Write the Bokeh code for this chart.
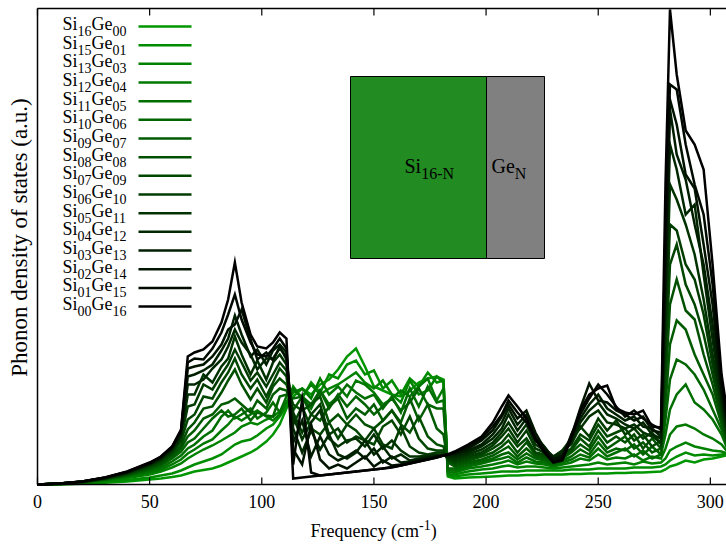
import math
from bokeh.plotting import figure
from bokeh.models import Range1d, Label
from bokeh.embed import file_html
from bokeh.resources import INLINE

# ---------------- data ----------------
FREQ = [0, 10, 20, 30, 40, 50, 55, 60, 64, 67,
        70, 74, 78, 82, 85, 88, 91, 95, 98, 102,
        105, 108, 111, 114, 118, 122, 126, 130, 134, 138,
        142, 146, 150, 154, 158, 162, 166, 170, 174, 178,
        181, 183, 186, 192, 198, 203, 207, 210, 214, 218,
        222, 226, 230, 234, 238, 242, 246, 250, 254, 258,
        262, 266, 270, 274, 278, 280, 282, 285, 289, 293,
        297, 301, 305, 309]

SI_COUNT = ["16", "15", "13", "12", "11", "10", "09", "08",
            "07", "06", "05", "04", "03", "02", "01", "00"]
GE_COUNT = ["00", "01", "03", "04", "05", "06", "07", "08",
            "09", "10", "11", "12", "13", "14", "15", "16"]

XTICKS = [0, 50, 100, 150, 200, 250, 300]

si16ge00 = [0, 0.02, 0.08, 0.18, 0.3, 0.5, 0.6, 0.75, 0.9, 1.1,
            1.3, 1.45, 1.6, 1.9, 2.2, 2.5, 2.8, 3.2, 3.6, 4.3,
            5.0, 6.0, 7.6, 8.8, 9.6, 9.0, 10.0, 10.5, 11.5, 12.8,
            13.6, 11.8, 9.8, 9.4, 9.0, 8.8, 9.4, 10.2, 10.6, 10.8,
            10.5, 0.8, 0.6, 0.7, 0.75, 0.8, 0.85, 0.9, 0.9, 0.95,
            0.95, 1.0, 1.0, 1.0, 1.05, 1.05, 1.1, 1.1, 1.1, 1.15,
            1.15, 1.2, 1.2, 1.25, 1.3, 1.5, 1.8, 2.0, 2.4, 2.2,
            2.5, 2.6, 2.8, 3.0]
si15ge01 = [0, 0.03, 0.1, 0.25, 0.45, 0.7, 0.9, 1.1, 1.4, 1.7,
            2.0, 2.3, 2.6, 3.0, 3.5, 4.0, 4.3, 4.5, 4.9, 5.6,
            6.0, 6.8, 7.8, 9.8, 8.6, 10.2, 9.2, 11.0, 10.6, 12.0,
            12.4, 11.0, 11.4, 9.6, 10.4, 9.0, 10.6, 9.8, 11.2, 10.2,
            10.4, 0.9, 0.8, 1.0, 1.1, 1.2, 1.3, 1.3, 1.3, 1.4,
            1.4, 1.4, 1.4, 1.4, 1.5, 1.5, 1.5, 1.6, 1.6, 1.6,
            1.6, 1.7, 1.7, 1.7, 1.8, 2.0, 2.4, 2.8, 3.2, 2.9,
            3.0, 2.9, 3.0, 3.1]
si13ge03 = [0, 0.05, 0.15, 0.35, 0.65, 1.0, 1.3, 1.7, 2.1, 2.6,
            3.0, 3.5, 3.9, 4.4, 4.8, 5.2, 5.8, 6.2, 6.0, 6.5,
            6.8, 7.3, 8.2, 9.4, 8.8, 10.0, 9.0, 9.6, 10.0, 10.6,
            11.2, 10.2, 9.6, 10.4, 9.0, 8.2, 10.4, 9.0, 9.4, 10.8,
            10.2, 1.0, 1.0, 1.3, 1.5, 1.6, 1.8, 1.9, 1.7, 1.8,
            1.8, 1.7, 1.6, 1.7, 1.8, 1.9, 2.0, 2.2, 2.0, 2.1,
            2.2, 2.0, 2.3, 2.1, 2.2, 2.6, 3.4, 3.8, 4.2, 3.8,
            3.6, 3.4, 3.3, 3.0]
si12ge04 = [0, 0.05, 0.18, 0.4, 0.75, 1.2, 1.5, 2.0, 2.5, 3.1,
            3.5, 4.1, 4.5, 5.4, 6.0, 6.8, 6.4, 7.0, 7.4, 6.8,
            6.4, 7.0, 8.2, 9.2, 9.6, 8.6, 10.6, 9.0, 9.8, 8.8,
            10.4, 10.0, 9.2, 8.0, 8.6, 9.4, 8.8, 9.8, 10.6, 8.4,
            9.6, 1.2, 1.2, 1.6, 1.8, 2.0, 2.2, 2.4, 2.0, 2.3,
            2.1, 2.0, 1.8, 2.0, 2.2, 2.6, 2.4, 3.0, 2.5, 2.7,
            2.6, 3.0, 2.4, 2.8, 2.6, 3.6, 5.0, 5.8, 6.0, 5.6,
            5.0, 4.6, 4.0, 2.9]
si11ge05 = [0, 0.06, 0.2, 0.45, 0.85, 1.35, 1.7, 2.3, 2.9, 3.6,
            4.0, 4.8, 5.4, 6.8, 7.4, 6.6, 7.0, 7.6, 6.6, 7.2,
            8.2, 7.2, 8.8, 9.6, 8.6, 7.6, 9.4, 8.0, 8.8, 10.0,
            9.2, 8.6, 9.0, 7.6, 8.8, 7.2, 9.6, 7.8, 9.8, 8.2,
            8.4, 1.4, 1.4, 1.8, 2.1, 2.4, 2.6, 2.8, 2.2, 2.7,
            2.3, 2.2, 1.9, 2.2, 2.5, 3.0, 2.7, 3.6, 2.8, 3.2,
            3.6, 2.8, 3.4, 2.6, 3.0, 5.0, 7.5, 9.0, 10.0, 8.2,
            7.5, 6.5, 5.0, 2.8]
si10ge06 = [0, 0.07, 0.22, 0.5, 0.9, 1.5, 1.9, 2.6, 3.3, 4.2,
            4.6, 5.6, 6.6, 7.4, 6.8, 7.0, 7.6, 6.4, 7.2, 6.9,
            6.8, 8.8, 9.0, 8.6, 8.8, 8.0, 9.4, 7.6, 9.0, 7.8,
            8.8, 8.0, 7.0, 7.8, 8.6, 7.4, 8.2, 9.6, 8.0, 7.6,
            7.6, 1.6, 1.6, 2.0, 2.3, 2.6, 3.0, 3.2, 2.5, 3.1,
            2.6, 2.4, 2.0, 2.4, 2.8, 3.5, 3.0, 4.2, 3.2, 3.6,
            3.4, 4.0, 3.0, 3.8, 3.0, 6.5, 10.5, 12.5, 12.0, 11.0,
            9.5, 7.5, 5.5, 2.8]
si09ge07 = [0, 0.07, 0.24, 0.52, 0.95, 1.6, 2.0, 2.8, 3.6, 4.8,
            5.4, 6.6, 7.0, 8.0, 8.2, 8.6, 8.0, 7.2, 8.4, 7.6,
            9.0, 9.6, 9.4, 7.4, 8.8, 7.0, 6.4, 7.8, 8.6, 6.6,
            7.6, 7.0, 8.0, 6.4, 7.4, 6.2, 8.6, 6.4, 8.0, 5.6,
            5.0, 2.2, 1.8, 2.2, 2.5, 2.9, 3.4, 3.8, 2.8, 3.6,
            2.8, 2.6, 2.2, 2.6, 3.2, 4.0, 3.4, 4.8, 3.6, 4.2,
            4.8, 3.6, 4.2, 3.2, 3.6, 8.0, 14.0, 16.4, 15.5, 13.0,
            11.0, 9.0, 6.0, 2.8]
si08ge08 = [0, 0.08, 0.25, 0.55, 1.0, 1.7, 2.1, 3.0, 3.9, 5.5,
            6.2, 7.6, 7.8, 9.2, 10.4, 11.5, 10.0, 8.5, 9.6, 8.2,
            9.8, 10.6, 10.0, 8.0, 7.4, 8.0, 8.8, 6.2, 7.0, 6.0,
            7.0, 6.0, 5.6, 6.4, 7.4, 6.0, 5.2, 6.8, 4.8, 4.0,
            3.8, 2.4, 2.0, 2.4, 2.8, 3.2, 3.8, 4.4, 3.2, 4.2,
            3.0, 2.8, 2.4, 2.8, 3.4, 4.6, 3.8, 5.4, 4.2, 4.8,
            4.2, 5.0, 3.6, 4.6, 3.6, 10.0, 18.0, 20.5, 17.4, 16.5,
            13.0, 10.0, 6.5, 3.0]
si07ge09 = [0, 0.08, 0.26, 0.58, 1.05, 1.8, 2.3, 3.2, 4.3, 6.5,
            7.0, 8.8, 8.6, 10.2, 11.2, 12.6, 11.0, 9.6, 10.5, 8.8,
            10.2, 11.6, 10.8, 6.0, 7.8, 5.6, 5.0, 6.2, 4.6, 6.0,
            5.4, 4.4, 4.0, 5.8, 6.4, 5.0, 6.8, 4.6, 3.6, 3.4,
            3.4, 2.5, 2.2, 2.6, 3.0, 3.6, 4.2, 5.0, 3.8, 4.6,
            3.2, 3.0, 2.6, 3.0, 3.6, 5.0, 4.4, 6.0, 4.8, 5.2,
            5.6, 4.4, 5.0, 3.8, 4.4, 12.0, 22.0, 24.0, 20.0, 18.0,
            15.0, 11.0, 7.0, 3.2]
si06ge10 = [0, 0.09, 0.27, 0.6, 1.1, 1.9, 2.4, 3.3, 4.6, 7.8,
            8.0, 10.0, 9.5, 11.0, 12.0, 13.5, 12.2, 10.4, 11.2, 9.8,
            11.0, 12.2, 11.4, 7.2, 5.2, 7.0, 8.0, 5.0, 5.6, 4.2,
            4.8, 4.4, 5.6, 4.0, 3.6, 5.8, 3.8, 3.2, 3.0, 3.2,
            3.2, 2.6, 2.4, 2.8, 3.2, 3.9, 4.8, 5.6, 4.2, 5.4,
            3.6, 3.2, 2.7, 3.4, 4.0, 5.8, 4.8, 6.6, 5.4, 6.4,
            5.0, 5.6, 4.6, 5.2, 4.0, 14.0, 26.0, 25.4, 22.0, 20.5,
            17.0, 12.0, 7.5, 3.4]
si05ge11 = [0, 0.09, 0.28, 0.62, 1.15, 2.0, 2.5, 3.4, 4.8, 9.0,
            9.0, 11.0, 10.2, 11.8, 12.6, 14.8, 13.0, 11.0, 12.4, 10.5,
            12.2, 13.0, 12.0, 6.8, 4.5, 6.2, 7.4, 4.6, 3.8, 4.4,
            4.6, 3.8, 5.0, 3.6, 4.4, 3.4, 2.8, 2.8, 2.9, 3.0,
            3.0, 2.7, 2.6, 3.0, 3.5, 4.2, 5.2, 6.2, 4.8, 6.0,
            4.0, 3.4, 2.8, 3.4, 4.6, 5.6, 6.8, 7.4, 6.2, 6.0,
            5.6, 6.0, 5.2, 4.8, 4.2, 16.0, 30.0, 28.5, 26.0, 23.0,
            18.5, 13.0, 8.0, 3.6]
si04ge12 = [0, 0.1, 0.28, 0.64, 1.2, 2.0, 2.6, 3.5, 5.0, 10.0,
            10.0, 10.5, 11.6, 12.5, 13.8, 15.5, 14.2, 13.0, 11.5, 12.6,
            12.6, 13.6, 12.8, 5.6, 3.2, 5.4, 3.5, 5.0, 3.0, 2.6,
            3.2, 4.4, 3.0, 3.8, 2.6, 3.0, 2.4, 2.6, 2.8, 2.9,
            2.9, 2.8, 2.8, 3.2, 3.8, 4.6, 5.6, 7.0, 5.4, 6.6,
            4.4, 3.6, 2.8, 3.2, 4.2, 6.2, 7.4, 8.2, 7.0, 6.6,
            6.0, 5.6, 6.2, 5.0, 4.6, 18.0, 34.0, 31.5, 27.0, 28.0,
            21.0, 14.5, 8.5, 3.8]
si03ge13 = [0, 0.1, 0.29, 0.66, 1.22, 2.1, 2.65, 3.6, 5.1, 10.8,
            11.0, 11.4, 12.0, 13.4, 14.6, 16.9, 15.0, 12.8, 13.5, 12.0,
            13.4, 14.0, 13.2, 4.2, 6.4, 2.8, 4.8, 3.0, 2.4, 2.8,
            3.4, 2.6, 3.6, 2.2, 2.8, 2.2, 2.3, 2.5, 2.7, 2.8,
            2.9, 2.9, 3.0, 3.4, 4.0, 5.0, 6.2, 7.6, 6.0, 7.0,
            4.8, 3.8, 2.6, 3.0, 4.4, 6.6, 8.0, 9.0, 7.6, 7.0,
            6.4, 6.8, 5.8, 5.6, 4.8, 20.0, 37.5, 33.0, 30.5, 26.0,
            22.0, 16.0, 9.0, 4.0]
si02ge14 = [0, 0.1, 0.3, 0.68, 1.25, 2.1, 2.7, 3.7, 5.2, 11.6,
            11.8, 12.0, 12.8, 14.0, 15.5, 16.0, 17.5, 14.5, 12.5, 13.2,
            12.4, 13.8, 12.5, 3.5, 2.0, 6.0, 2.5, 1.6, 2.0, 1.6,
            2.2, 2.8, 1.8, 2.4, 1.9, 2.0, 2.2, 2.4, 2.6, 2.8,
            2.9, 3.0, 3.1, 3.6, 4.4, 5.4, 6.8, 8.0, 6.6, 7.4,
            5.2, 3.6, 2.5, 2.8, 4.8, 7.6, 10.1, 8.4, 8.2, 7.4,
            7.0, 6.4, 6.8, 5.4, 5.2, 22.0, 38.5, 36.0, 31.0, 29.6,
            24.0, 18.0, 9.5, 4.2]
si01ge15 = [0, 0.1, 0.3, 0.69, 1.28, 2.15, 2.75, 3.75, 5.4, 12.2,
            12.6, 12.5, 13.6, 15.2, 17.0, 19.0, 16.5, 14.2, 13.0, 12.8,
            13.6, 14.6, 13.6, 2.0, 8.5, 1.2, 0.9, 1.0, 1.1, 1.2,
            1.3, 1.4, 1.5, 1.6, 1.7, 1.9, 2.1, 2.3, 2.5, 2.7,
            2.9, 3.0, 3.2, 3.8, 4.6, 5.8, 7.0, 8.4, 7.2, 6.2,
            4.6, 3.4, 2.3, 2.6, 5.0, 7.0, 8.6, 10.0, 9.0, 7.8,
            6.8, 7.4, 6.6, 6.0, 5.5, 25.0, 40.0, 39.5, 34.0, 30.0,
            27.0, 20.0, 10.0, 4.5]
si00ge16 = [0, 0.1, 0.3, 0.7, 1.3, 2.2, 2.8, 3.8, 5.5, 12.8,
            13.2, 13.5, 14.3, 16.2, 18.5, 22.2, 18.2, 15.0, 13.8, 13.6,
            14.2, 15.2, 14.6, 0.6, 0.7, 0.8, 0.9, 1.0, 1.1, 1.2,
            1.3, 1.4, 1.5, 1.6, 1.75, 1.9, 2.1, 2.3, 2.5, 2.7,
            2.9, 3.0, 3.3, 4.0, 4.8, 6.2, 7.8, 8.9, 7.8, 6.6,
            4.5, 3.2, 2.2, 2.4, 4.6, 7.4, 9.0, 9.6, 9.9, 7.6,
            7.2, 7.0, 7.4, 5.8, 5.7, 30.0, 47.5, 41.0, 35.4, 34.0,
            31.5, 22.0, 11.0, 5.0]

SERIES = [si16ge00, si15ge01, si13ge03, si12ge04, si11ge05, si10ge06,
          si09ge07, si08ge08, si07ge09, si06ge10, si05ge11, si04ge12,
          si03ge13, si02ge14, si01ge15, si00ge16]

# ---------------- layout ----------------
FONT = "Liberation Serif"
W, H = 726, 547
FRAME_LEFT, FRAME_TOP, FRAME_W, FRAME_H = 37, 8, 689, 476
FRAME_BOTTOM = FRAME_TOP + FRAME_H
X_END = 307.2
Y_END = 47.6
PXX = FRAME_W / X_END
PXY = FRAME_H / Y_END
TICK_LEN = 7
BASE_FIX = 0.33   # renderer draws the baseline lower by about this fraction of the size


def sx(px):
    return (px - FRAME_LEFT) / PXX


def sy(py):
    return (FRAME_BOTTOM - py) / PXY


CW = {'S': 0.556, 'i': 0.278, 'G': 0.722, 'e': 0.444, '-': 0.333, 'N': 0.722,
      'F': 0.556, 'r': 0.333, 'q': 0.5, 'u': 0.5, 'n': 0.5, 'c': 0.444,
      'y': 0.5, ' ': 0.25, '(': 0.333, ')': 0.333, 'm': 0.778}


def tw(s, size):
    return sum(CW.get(ch, 0.5) for ch in s) * size


def label(p, x, y, s, size, align="left", angle=0.0):
    fix = BASE_FIX * size
    if angle:
        x = x - fix / PXX
    else:
        y = y + fix / PXY
    p.add_layout(Label(x=x, y=y, text=s, text_font=FONT, text_font_size=f"{size}px",
                       text_baseline="alphabetic", text_align=align,
                       text_color="black", angle=angle))


def rich(p, x_px, base_py, parts):
    x = x_px
    for s, size, dy in parts:
        label(p, sx(x), sy(base_py + dy), s, size)
        x += tw(s, size)


COLORS = ["#%02x%02x%02x" % (0, round(150 * (1 - k / 15)), 0) for k in range(16)]

# the drawing area spans the whole canvas; the plot box is drawn inside it
p = figure(width=W, height=H, x_range=Range1d(sx(0), sx(W)), y_range=Range1d(sy(H), sy(0)),
           output_backend="svg", toolbar_location=None,
           x_axis_location=None, y_axis_location=None,
           min_border=0, min_border_left=0, min_border_right=0,
           min_border_top=0, min_border_bottom=0)
p.outline_line_color = None
p.grid.visible = False
p.background_fill_color = "white"
p.border_fill_color = "white"

# curves
for k, ys in enumerate(SERIES):
    p.line(FREQ, ys, line_color=COLORS[k], line_width=2.5, line_join="miter")

# box lines (left, bottom, top)
p.segment(x0=[0, 0, 0], x1=[0, X_END + 5, X_END + 5], y0=[0, 0, Y_END], y1=[Y_END, 0, Y_END],
          line_color="black", line_width=1.5)

# inward ticks on bottom and top
p.segment(x0=XTICKS, x1=XTICKS, y0=[0] * len(XTICKS), y1=[TICK_LEN / PXY] * len(XTICKS),
          line_color="black", line_width=1.2)
p.segment(x0=XTICKS, x1=XTICKS, y0=[Y_END] * len(XTICKS),
          y1=[Y_END - TICK_LEN / PXY] * len(XTICKS), line_color="black", line_width=1.2)

# tick labels
for t in XTICKS:
    label(p, t, sy(507), str(t), 18, align="center")

# y title (rotated)
label(p, sx(27), sy(237), "Phonon density of states (a.u.)", 23, align="center",
      angle=math.pi / 2)

# legend (text right, line sample)
for i in range(16):
    line_py = 26 + i * 18.67
    parts = [("Si", 18, 0), (SI_COUNT[i], 14, 5.5), ("Ge", 18, 0), (GE_COUNT[i], 14, 5.5)]
    total = sum(tw(s, sz) for s, sz, _ in parts)
    rich(p, 126 - total, line_py + 3.5, parts)
p.segment(x0=[sx(138)] * 16, x1=[sx(191)] * 16,
          y0=[sy(26 + i * 18.67) for i in range(16)],
          y1=[sy(26 + i * 18.67) for i in range(16)],
          line_color=COLORS, line_width=2.5)

# inset schematic
p.quad(left=[sx(350)], right=[sx(486)], top=[sy(76)], bottom=[sy(258)],
       fill_color="#228b22", line_color="black", line_width=1)
p.quad(left=[sx(486)], right=[sx(544)], top=[sy(76)], bottom=[sy(258)],
       fill_color="#808080", line_color="black", line_width=1)
rich(p, 404, 172, [("Si", 20, 0), ("16-N", 16, 6)])
rich(p, 491, 172, [("Ge", 20, 0), ("N", 16, 6)])

# x axis title
rich(p, 310, 536, [("Frequency (cm", 18, 0), ("-1", 14, -7), (")", 18, 0)])

open("out.html", "w").write(file_html(p, INLINE))
